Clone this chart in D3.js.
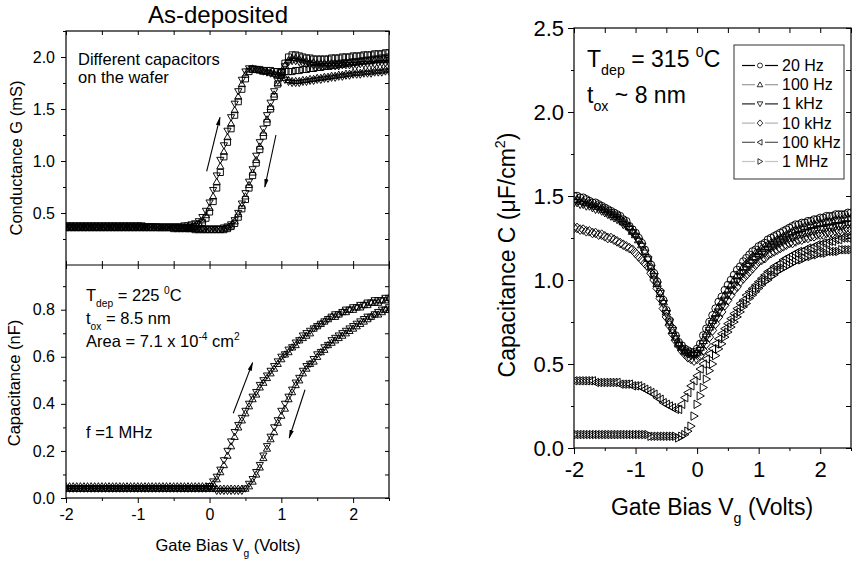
<!DOCTYPE html>
<html><head><meta charset="utf-8">
<script src="https://cdn.jsdelivr.net/npm/d3@7"></script>
<style>body{margin:0;background:#fff}svg{display:block}text{white-space:pre}</style>
</head><body>
<svg id="c" width="853" height="563"></svg>
<script>
// ---------- DATA ----------
const volts = [-2,-1.95,-1.9,-1.85,-1.8,-1.75,-1.7,-1.65,-1.6,-1.55,
-1.5,-1.45,-1.4,-1.35,-1.3,-1.25,-1.2,-1.15,-1.1,-1.05,
-1,-0.95,-0.9,-0.85,-0.8,-0.75,-0.7,-0.65,-0.6,-0.55,
-0.5,-0.45,-0.4,-0.35,-0.3,-0.25,-0.2,-0.15,-0.1,-0.05,
0,0.05,0.1,0.15,0.2,0.25,0.3,0.35,0.4,0.45,
0.5,0.55,0.6,0.65,0.7,0.75,0.8,0.85,0.9,0.95,
1,1.05,1.1,1.15,1.2,1.25,1.3,1.35,1.4,1.45,
1.5,1.55,1.6,1.65,1.7,1.75,1.8,1.85,1.9,1.95,
2,2.05,2.1,2.15,2.2,2.25,2.3,2.35,2.4,2.45,
2.5];

// Conductance G (mS), left-top panel: three capacitors, forward (Up) and reverse (Dn) sweeps
const gUpTriUp = [0.37,0.37,0.37,0.37,0.37,0.37,0.37,0.37,0.37,0.37,
0.37,0.37,0.37,0.37,0.37,0.37,0.37,0.37,0.37,0.37,
0.37,0.37,0.37,0.36,0.36,0.36,0.36,0.36,0.36,0.36,
0.36,0.36,0.36,0.36,0.37,0.37,0.38,0.40,0.43,0.48,
0.55,0.66,0.80,0.95,1.09,1.23,1.36,1.49,1.62,1.74,
1.83,1.88,1.89,1.88,1.87,1.86,1.86,1.85,1.84,1.83,
1.82,1.80,1.78,1.77,1.77,1.77,1.78,1.78,1.79,1.79,
1.80,1.80,1.81,1.81,1.82,1.82,1.83,1.83,1.84,1.84,
1.85,1.85,1.85,1.86,1.86,1.86,1.87,1.87,1.87,1.88,
1.88];
const gDnTriUp = [0.36,0.36,0.36,0.36,0.36,0.36,0.36,0.36,0.36,0.36,
0.36,0.36,0.36,0.36,0.36,0.36,0.36,0.36,0.36,0.36,
0.36,0.36,0.36,0.36,0.36,0.36,0.36,0.36,0.36,0.36,
0.36,0.36,0.36,0.35,0.35,0.35,0.35,0.35,0.35,0.34,
0.34,0.34,0.34,0.34,0.35,0.36,0.38,0.42,0.49,0.57,
0.66,0.77,0.89,1.01,1.14,1.27,1.40,1.52,1.64,1.75,
1.84,1.92,1.97,1.99,1.99,1.98,1.97,1.96,1.95,1.95,
1.94,1.94,1.94,1.94,1.94,1.94,1.94,1.94,1.95,1.95,
1.95,1.95,1.96,1.96,1.96,1.96,1.97,1.97,1.97,1.97,
1.98];
const gUpTriDn = [0.38,0.38,0.38,0.38,0.38,0.38,0.38,0.38,0.38,0.38,
0.38,0.38,0.38,0.38,0.38,0.38,0.38,0.38,0.38,0.38,
0.38,0.38,0.37,0.37,0.37,0.37,0.37,0.37,0.37,0.37,
0.37,0.37,0.37,0.38,0.38,0.39,0.40,0.42,0.46,0.52,
0.60,0.72,0.86,1.01,1.15,1.29,1.42,1.55,1.67,1.78,
1.86,1.89,1.89,1.88,1.87,1.86,1.85,1.84,1.83,1.82,
1.80,1.78,1.76,1.75,1.75,1.75,1.76,1.76,1.77,1.77,
1.78,1.78,1.79,1.79,1.80,1.80,1.81,1.81,1.82,1.82,
1.83,1.83,1.83,1.84,1.84,1.84,1.85,1.85,1.85,1.86,
1.86];
const gDnTriDn = [0.37,0.37,0.37,0.37,0.37,0.37,0.37,0.37,0.37,0.37,
0.37,0.37,0.37,0.37,0.37,0.37,0.37,0.37,0.37,0.37,
0.37,0.37,0.37,0.37,0.37,0.37,0.36,0.36,0.36,0.36,
0.36,0.36,0.36,0.36,0.35,0.35,0.35,0.35,0.35,0.35,
0.35,0.35,0.35,0.35,0.36,0.37,0.39,0.43,0.50,0.59,
0.69,0.80,0.92,1.05,1.18,1.31,1.44,1.56,1.67,1.77,
1.85,1.91,1.95,1.96,1.96,1.95,1.94,1.93,1.92,1.92,
1.91,1.91,1.91,1.91,1.91,1.91,1.91,1.92,1.92,1.92,
1.92,1.92,1.93,1.93,1.93,1.93,1.93,1.94,1.94,1.94,
1.94];
const gUpSq = [0.36,0.36,0.36,0.36,0.36,0.36,0.36,0.36,0.36,0.36,
0.36,0.36,0.36,0.36,0.36,0.36,0.36,0.36,0.36,0.36,
0.36,0.36,0.36,0.36,0.36,0.36,0.36,0.36,0.36,0.36,
0.36,0.36,0.36,0.36,0.36,0.36,0.37,0.39,0.41,0.45,
0.51,0.61,0.74,0.89,1.04,1.18,1.31,1.44,1.57,1.69,
1.79,1.86,1.88,1.88,1.88,1.87,1.87,1.87,1.86,1.86,
1.86,1.86,1.86,1.86,1.87,1.87,1.88,1.88,1.89,1.89,
1.90,1.90,1.91,1.91,1.92,1.92,1.93,1.93,1.94,1.94,
1.95,1.95,1.96,1.96,1.97,1.97,1.98,1.98,1.99,1.99,
2.00];
const gDnSq = [0.36,0.36,0.36,0.36,0.36,0.36,0.36,0.36,0.36,0.36,
0.36,0.36,0.36,0.36,0.36,0.36,0.36,0.36,0.36,0.36,
0.36,0.36,0.36,0.36,0.36,0.36,0.36,0.36,0.36,0.36,
0.35,0.35,0.35,0.35,0.35,0.35,0.34,0.34,0.34,0.34,
0.34,0.34,0.34,0.34,0.34,0.35,0.37,0.40,0.46,0.54,
0.63,0.74,0.86,0.98,1.11,1.24,1.37,1.50,1.62,1.74,
1.85,1.94,2.00,2.02,2.02,2.01,2.00,1.99,1.99,1.98,
1.98,1.98,1.98,1.98,1.99,1.99,1.99,2.00,2.00,2.00,
2.01,2.01,2.01,2.02,2.02,2.02,2.03,2.03,2.03,2.04,
2.04];

// Capacitance (nF), left-bottom panel, f = 1 MHz
const cUpTriUp = [0.05,0.05,0.05,0.05,0.05,0.05,0.05,0.05,0.05,0.05,
0.05,0.05,0.05,0.05,0.05,0.05,0.05,0.05,0.05,0.05,
0.05,0.05,0.05,0.05,0.05,0.05,0.05,0.05,0.05,0.05,
0.05,0.05,0.05,0.05,0.05,0.05,0.05,0.05,0.05,0.05,
0.05,0.06,0.08,0.11,0.14,0.18,0.22,0.26,0.30,0.33,
0.36,0.39,0.42,0.44,0.47,0.49,0.51,0.53,0.55,0.57,
0.59,0.61,0.62,0.64,0.65,0.67,0.68,0.69,0.70,0.72,
0.73,0.74,0.75,0.76,0.77,0.77,0.78,0.79,0.79,0.80,
0.80,0.81,0.81,0.82,0.82,0.83,0.83,0.83,0.84,0.84,
0.85];
const cDnTriUp = [0.04,0.04,0.04,0.04,0.04,0.04,0.04,0.04,0.04,0.04,
0.04,0.04,0.04,0.04,0.04,0.04,0.04,0.04,0.04,0.04,
0.04,0.04,0.04,0.04,0.04,0.04,0.04,0.04,0.04,0.04,
0.04,0.04,0.04,0.04,0.04,0.04,0.04,0.04,0.04,0.04,
0.04,0.04,0.04,0.04,0.04,0.04,0.04,0.04,0.04,0.04,
0.04,0.05,0.07,0.10,0.13,0.17,0.21,0.25,0.28,0.32,
0.35,0.38,0.42,0.45,0.48,0.50,0.53,0.55,0.57,0.58,
0.60,0.62,0.63,0.65,0.66,0.67,0.68,0.69,0.70,0.71,
0.72,0.73,0.74,0.75,0.76,0.77,0.78,0.78,0.79,0.80,
0.80];
const cUpTriDn = [0.04,0.04,0.04,0.04,0.04,0.04,0.04,0.04,0.04,0.04,
0.04,0.04,0.04,0.04,0.04,0.04,0.04,0.04,0.04,0.04,
0.04,0.04,0.04,0.04,0.04,0.04,0.04,0.04,0.04,0.04,
0.04,0.04,0.04,0.04,0.04,0.04,0.04,0.04,0.04,0.04,
0.05,0.07,0.09,0.12,0.16,0.20,0.24,0.28,0.31,0.34,
0.37,0.40,0.43,0.45,0.48,0.50,0.52,0.54,0.56,0.58,
0.60,0.61,0.63,0.64,0.66,0.67,0.69,0.70,0.71,0.72,
0.73,0.74,0.75,0.76,0.77,0.78,0.78,0.79,0.80,0.80,
0.81,0.81,0.82,0.82,0.83,0.83,0.84,0.84,0.84,0.85,
0.85];
const cDnTriDn = [0.04,0.04,0.04,0.04,0.04,0.04,0.04,0.04,0.04,0.04,
0.04,0.04,0.04,0.04,0.04,0.04,0.04,0.04,0.04,0.04,
0.04,0.04,0.04,0.04,0.04,0.04,0.04,0.04,0.04,0.04,
0.04,0.04,0.04,0.04,0.04,0.04,0.04,0.04,0.04,0.04,
0.04,0.04,0.03,0.03,0.03,0.03,0.03,0.03,0.03,0.03,
0.04,0.06,0.08,0.11,0.14,0.18,0.22,0.26,0.30,0.33,
0.37,0.40,0.43,0.46,0.49,0.51,0.54,0.56,0.57,0.59,
0.61,0.62,0.64,0.65,0.67,0.68,0.69,0.70,0.71,0.72,
0.73,0.74,0.75,0.76,0.77,0.77,0.78,0.79,0.80,0.80,
0.81];

// Capacitance C (uF/cm^2), right panel, six frequencies
const freqLabels = ["20 Hz","100 Hz","1 kHz","10 kHz","100 kHz","1 MHz"];
const c20Hz = [1.50,1.50,1.49,1.49,1.48,1.47,1.46,1.46,1.45,1.44,
1.43,1.42,1.41,1.40,1.39,1.38,1.36,1.35,1.32,1.30,
1.28,1.25,1.22,1.18,1.13,1.09,1.04,0.99,0.93,0.88,
0.82,0.76,0.71,0.67,0.63,0.61,0.59,0.58,0.57,0.57,
0.59,0.62,0.67,0.71,0.75,0.79,0.83,0.87,0.90,0.94,
0.97,1.00,1.03,1.06,1.08,1.11,1.13,1.15,1.17,1.18,
1.20,1.21,1.22,1.24,1.25,1.26,1.27,1.28,1.29,1.30,
1.31,1.32,1.33,1.33,1.34,1.34,1.35,1.35,1.36,1.36,
1.37,1.37,1.38,1.38,1.38,1.39,1.39,1.39,1.39,1.40,
1.40];
const c100Hz = [1.48,1.48,1.47,1.47,1.46,1.46,1.45,1.44,1.44,1.43,
1.42,1.41,1.40,1.39,1.38,1.37,1.35,1.34,1.32,1.29,
1.27,1.24,1.21,1.17,1.13,1.08,1.03,0.98,0.92,0.87,
0.81,0.75,0.70,0.66,0.62,0.60,0.58,0.57,0.56,0.56,
0.57,0.60,0.64,0.68,0.72,0.76,0.80,0.84,0.87,0.91,
0.94,0.97,1.00,1.03,1.05,1.08,1.10,1.12,1.14,1.16,
1.17,1.19,1.20,1.21,1.22,1.23,1.24,1.25,1.26,1.27,
1.28,1.29,1.30,1.30,1.31,1.32,1.32,1.33,1.33,1.34,
1.34,1.34,1.35,1.35,1.35,1.36,1.36,1.36,1.37,1.37,
1.37];
const c1kHz = [1.46,1.46,1.45,1.45,1.44,1.44,1.43,1.42,1.42,1.41,
1.40,1.39,1.38,1.37,1.36,1.35,1.33,1.32,1.30,1.28,
1.26,1.23,1.20,1.16,1.12,1.07,1.02,0.97,0.92,0.86,
0.80,0.75,0.70,0.65,0.61,0.59,0.57,0.56,0.55,0.55,
0.56,0.58,0.62,0.66,0.70,0.74,0.77,0.81,0.84,0.88,
0.91,0.94,0.97,0.99,1.02,1.04,1.06,1.08,1.10,1.12,
1.14,1.15,1.16,1.18,1.19,1.20,1.21,1.22,1.23,1.24,
1.25,1.25,1.26,1.27,1.27,1.28,1.28,1.29,1.29,1.30,
1.30,1.30,1.31,1.31,1.31,1.32,1.32,1.32,1.33,1.33,
1.33];
const c10kHz = [1.31,1.31,1.30,1.30,1.29,1.29,1.28,1.28,1.27,1.27,
1.26,1.25,1.25,1.24,1.23,1.22,1.21,1.20,1.19,1.18,
1.16,1.14,1.12,1.10,1.08,1.04,1.00,0.95,0.89,0.83,
0.78,0.73,0.68,0.64,0.61,0.58,0.56,0.54,0.53,0.52,
0.53,0.55,0.58,0.62,0.66,0.70,0.74,0.78,0.81,0.85,
0.88,0.91,0.94,0.96,0.99,1.01,1.03,1.05,1.07,1.09,
1.11,1.12,1.13,1.15,1.16,1.17,1.18,1.19,1.20,1.21,
1.22,1.22,1.23,1.24,1.24,1.25,1.25,1.26,1.26,1.27,
1.27,1.27,1.28,1.28,1.28,1.29,1.29,1.29,1.30,1.30,
1.30];
const c100kHz = [0.40,0.40,0.40,0.40,0.40,0.40,0.40,0.39,0.39,0.39,
0.39,0.39,0.39,0.39,0.39,0.38,0.38,0.38,0.38,0.37,
0.37,0.37,0.36,0.35,0.34,0.33,0.32,0.30,0.29,0.27,
0.26,0.25,0.24,0.23,0.23,0.26,0.30,0.33,0.37,0.40,
0.43,0.47,0.50,0.53,0.56,0.59,0.62,0.65,0.68,0.71,
0.74,0.77,0.80,0.83,0.86,0.88,0.91,0.93,0.95,0.97,
0.99,1.01,1.03,1.05,1.06,1.08,1.09,1.10,1.12,1.13,
1.14,1.15,1.16,1.17,1.17,1.18,1.19,1.19,1.20,1.21,
1.21,1.22,1.22,1.23,1.23,1.24,1.24,1.25,1.25,1.25,
1.26];
const c1MHz = [0.08,0.08,0.08,0.08,0.08,0.08,0.08,0.08,0.08,0.08,
0.08,0.08,0.08,0.08,0.08,0.08,0.08,0.08,0.08,0.08,
0.08,0.08,0.08,0.08,0.08,0.07,0.07,0.07,0.07,0.07,
0.07,0.07,0.07,0.07,0.06,0.07,0.08,0.10,0.13,0.19,
0.26,0.31,0.36,0.41,0.46,0.50,0.55,0.59,0.62,0.66,
0.69,0.72,0.75,0.78,0.81,0.84,0.86,0.89,0.91,0.93,
0.95,0.97,0.99,1.00,1.02,1.03,1.05,1.06,1.07,1.08,
1.09,1.10,1.11,1.12,1.12,1.13,1.14,1.14,1.15,1.15,
1.16,1.16,1.16,1.17,1.17,1.17,1.17,1.18,1.18,1.18,
1.18];

// Tick values
const vMajor = [-2,-1,0,1,2];
const vMinor = [-1.5,-0.5,0.5,1.5,2.5];
const gMajor = [0.5,1.0,1.5,2.0];
const gMinor = [0.25,0.75,1.25,1.75,2.25];
const cMajor = [0,0.2,0.4,0.6,0.8];
const cMinor = [0.1,0.3,0.5,0.7,0.9];
const rMajor = [0,0.5,1.0,1.5,2.0,2.5];
const rMinor = [0.25,0.75,1.25,1.75,2.25];

// ---------- DRAWING ----------
const FONT = '"Liberation Sans", Arial, Helvetica, sans-serif';
const svg = d3.select("#c");
svg.append("rect").attr("width",853).attr("height",563).attr("fill","#fff");

function mk(type, r) {
  const h = 0.73 * r;
  switch (type) {
    case "up": return `M0,${-r}L${r},${h}L${-r},${h}Z`;
    case "down": return `M0,${r}L${r},${-h}L${-r},${-h}Z`;
    case "left": return `M${-r},0L${h},${-r}L${h},${r}Z`;
    case "right": return `M${r},0L${-h},${-r}L${-h},${r}Z`;
    case "square": { const s = 0.85 * r; return `M${-s},${-s}H${s}V${s}H${-s}Z`; }
    case "diamond": return `M0,${-1.15*r}L${r},0L0,${1.15*r}L${-r},0Z`;
    default: { const c = 0.9 * r; return `M${c},0A${c},${c} 0 1,1 ${-c},0A${c},${c} 0 1,1 ${c},0Z`; }
  }
}

function series(g, vals, x, y, type, r) {
  g.append("g").selectAll("path").data(d3.zip(volts, vals)).join("path")
    .attr("transform", d => `translate(${x(d[0])},${y(d[1])})`)
    .attr("d", mk(type, r)).attr("fill", "none").attr("stroke", "#000").attr("stroke-width", 0.95);
}

function ax(g, axis, tx, ty, fs) {
  const a = g.append("g").attr("transform", `translate(${tx},${ty})`).call(axis);
  a.select(".domain").remove();
  a.selectAll("line").attr("stroke", "#000").attr("stroke-width", 1);
  a.selectAll("text").attr("font-family", FONT).attr("font-size", fs).attr("fill", "#000");
  return a;
}

function rich(g, x, y, parts, fs, anchor, transform) {
  const t = g.append("text").attr("x", x).attr("y", y).attr("font-family", FONT)
    .attr("font-size", fs).attr("text-anchor", anchor || "start").attr("fill", "#000");
  if (transform) t.attr("transform", transform);
  let cur = 0;
  parts.forEach(([s, k]) => {
    const off = k === "sub" ? 0.35 * fs : k === "sup" ? -0.42 * fs : 0;
    t.append("tspan").attr("dy", off - cur).attr("font-size", k === "n" ? fs : 0.62 * fs).text(s);
    cur = off;
  });
  return t;
}

const defs = svg.append("defs");
defs.append("marker").attr("id", "ah").attr("viewBox", "0 0 10 10").attr("refX", 9).attr("refY", 5)
  .attr("markerUnits", "userSpaceOnUse").attr("markerWidth", 9).attr("markerHeight", 9).attr("orient", "auto")
  .append("path").attr("d", "M0,2.6L10,5L0,7.4Z").attr("fill", "#000");

function clip(id, x0, y0, x1, y1) {
  defs.append("clipPath").attr("id", id).append("rect").attr("x", x0).attr("y", y0).attr("width", x1 - x0).attr("height", y1 - y0);
}

// ----- Left panels -----
const xL = d3.scaleLinear([-2, 2.5], [66, 389]);
const yG = d3.scaleLinear([0, 2.25], [265, 31]);
const yC = d3.scaleLinear([0, 0.99], [498, 265]);
const L = svg.append("g");
const fL = 16;

clip("clipG", 66, 31, 389, 265);
clip("clipC", 66, 265, 389, 498);

const pG = L.append("g").attr("clip-path", "url(#clipG)");
[[gUpTriUp, "up"], [gDnTriUp, "up"], [gUpTriDn, "down"], [gDnTriDn, "down"], [gUpSq, "square"], [gDnSq, "square"]]
  .forEach(([v, m]) => series(pG, v, xL, yG, m, 3.6));
const pC = L.append("g").attr("clip-path", "url(#clipC)");
[[cUpTriUp, "up"], [cDnTriUp, "up"], [cUpTriDn, "down"], [cDnTriDn, "down"]]
  .forEach(([v, m]) => series(pC, v, xL, yC, m, 3.6));

// axes top panel
ax(L, d3.axisLeft(yG).tickValues(gMajor).tickSize(5).tickPadding(6).tickSizeOuter(0).tickFormat(d3.format(".1f")), 66, 0, fL);
ax(L, d3.axisLeft(yG).tickValues(gMinor).tickSize(3).tickSizeOuter(0).tickFormat(""), 66, 0, fL);
ax(L, d3.axisLeft(yG).tickValues(gMajor.concat(gMinor)).tickSize(4).tickSizeOuter(0).tickFormat(""), 389, 0, fL);
ax(L, d3.axisBottom(xL).tickValues(vMajor.concat(vMinor)).tickSize(4).tickSizeOuter(0).tickFormat(""), 0, 31, fL);
ax(L, d3.axisTop(xL).tickValues(vMajor.concat(vMinor)).tickSize(4).tickSizeOuter(0).tickFormat(""), 0, 265, fL);
// axes bottom panel
ax(L, d3.axisLeft(yC).tickValues(cMajor).tickSize(5).tickPadding(6).tickSizeOuter(0).tickFormat(d3.format(".1f")), 66, 0, fL);
ax(L, d3.axisLeft(yC).tickValues(cMinor).tickSize(3).tickSizeOuter(0).tickFormat(""), 66, 0, fL);
ax(L, d3.axisLeft(yC).tickValues(cMajor.concat(cMinor)).tickSize(4).tickSizeOuter(0).tickFormat(""), 389, 0, fL);
ax(L, d3.axisBottom(xL).tickValues(vMajor.concat(vMinor)).tickSize(4).tickSizeOuter(0).tickFormat(""), 0, 265, fL);
ax(L, d3.axisBottom(xL).tickValues(vMajor).tickSize(5).tickPadding(6).tickSizeOuter(0).tickFormat(d => String(d)), 0, 498, fL);
ax(L, d3.axisBottom(xL).tickValues(vMinor).tickSize(3).tickSizeOuter(0).tickFormat(""), 0, 498, fL);

L.append("rect").attr("x", 66).attr("y", 31).attr("width", 323).attr("height", 467)
  .attr("fill", "none").attr("stroke", "#000").attr("stroke-width", 1.2);
L.append("line").attr("x1", 66).attr("x2", 389).attr("y1", 265).attr("y2", 265).attr("stroke", "#000").attr("stroke-width", 1.2);

// arrows (data units)
const arrowsG = [[-0.04, 0.90, 0.145, 1.42], [0.925, 1.25, 0.77, 0.75]];
const arrowsC = [[0.33, 0.36, 0.60, 0.575], [1.33, 0.46, 1.11, 0.255]];
arrowsG.forEach(a => L.append("line").attr("x1", xL(a[0])).attr("y1", yG(a[1])).attr("x2", xL(a[2])).attr("y2", yG(a[3]))
  .attr("stroke", "#000").attr("stroke-width", 1.1).attr("marker-end", "url(#ah)"));
arrowsC.forEach(a => L.append("line").attr("x1", xL(a[0])).attr("y1", yC(a[1])).attr("x2", xL(a[2])).attr("y2", yC(a[3]))
  .attr("stroke", "#000").attr("stroke-width", 1.1).attr("marker-end", "url(#ah)"));

// texts left
rich(L, 218, 23, [["As-deposited", "n"]], 24, "middle");
rich(L, 0, 0, [["Conductance G (mS)", "n"]], 16.5, "middle", "translate(22,158) rotate(-90)");
rich(L, 0, 0, [["Capacitance (nF)", "n"]], 16.5, "middle", "translate(20,383) rotate(-90)");
rich(L, 228, 551, [["Gate Bias V", "n"], ["g", "sub"], [" (Volts)", "n"]], 16.5, "middle");
rich(L, 78, 65, [["Different capacitors", "n"]], 16.5);
rich(L, 78, 83, [["on the wafer", "n"]], 16.5);
rich(L, 86, 301, [["T", "n"], ["dep", "sub"], [" = 225 ", "n"], ["0", "sup"], ["C", "n"]], 16.5);
rich(L, 86, 324, [["t", "n"], ["ox", "sub"], [" = 8.5 nm", "n"]], 16.5);
rich(L, 86, 347, [["Area = 7.1 x 10", "n"], ["-4", "sup"], [" cm", "n"], ["2", "sup"]], 16.5);
rich(L, 86, 438, [["f =1 MHz", "n"]], 16.5);

// ----- Right panel -----
const xR = d3.scaleLinear([-2, 2.5], [574, 851]);
const yR = d3.scaleLinear([0, 2.5], [448, 28]);
const R = svg.append("g");
const fR = 22;
clip("clipR", 574, 28, 851, 448);
const pR = R.append("g").attr("clip-path", "url(#clipR)");
const rightSeries = [[c1MHz, "right"], [c100kHz, "left"], [c10kHz, "diamond"], [c1kHz, "down"], [c100Hz, "up"], [c20Hz, "circle"]];
rightSeries.forEach(([v, m]) => series(pR, v, xR, yR, m, 4.2));

ax(R, d3.axisLeft(yR).tickValues(rMajor).tickSize(6).tickPadding(4).tickSizeOuter(0).tickFormat(d3.format(".1f")), 574, 0, fR);
ax(R, d3.axisLeft(yR).tickValues(rMinor).tickSize(3).tickSizeOuter(0).tickFormat(""), 574, 0, fR);
ax(R, d3.axisLeft(yR).tickValues(rMajor.concat(rMinor)).tickSize(5).tickSizeOuter(0).tickFormat(""), 851, 0, fR);
ax(R, d3.axisBottom(xR).tickValues(vMajor.concat(vMinor)).tickSize(5).tickSizeOuter(0).tickFormat(""), 0, 28, fR);
ax(R, d3.axisBottom(xR).tickValues(vMajor).tickSize(6).tickPadding(7).tickSizeOuter(0).tickFormat(d => String(d)), 0, 448, fR);
ax(R, d3.axisBottom(xR).tickValues(vMinor).tickSize(3).tickSizeOuter(0).tickFormat(""), 0, 448, fR);
R.append("rect").attr("x", 574).attr("y", 28).attr("width", 277).attr("height", 420)
  .attr("fill", "none").attr("stroke", "#000").attr("stroke-width", 1.2);

rich(R, 0, 0, [["Capacitance C (μF/cm", "n"], ["2", "sup"], [")", "n"]], 23, "middle", "translate(515,255) rotate(-90)");
rich(R, 712, 515, [["Gate Bias V", "n"], ["g", "sub"], [" (Volts)", "n"]], 23, "middle");
rich(R, 587, 67, [["T", "n"], ["dep", "sub"], [" = 315 ", "n"], ["0", "sup"], ["C", "n"]], 23);
rich(R, 587, 103, [["t", "n"], ["ox", "sub"], [" ~ 8 nm", "n"]], 23);

// legend
const legendMarkers = ["circle", "up", "down", "diamond", "left", "right"];
const legendLineColors = ["#000", "#9a9a9a", "#222", "#b0b0b0", "#555", "#c4c4c4"];
const lg = R.append("g");
lg.append("rect").attr("x", 734).attr("y", 45).attr("width", 110).attr("height", 134)
  .attr("fill", "#fff").attr("stroke", "#333").attr("stroke-width", 1);
freqLabels.forEach((lab, i) => {
  const yb = 71 + 19.2 * i, yl = yb - 5.5;
  lg.append("line").attr("x1", 742).attr("x2", 755).attr("y1", yl).attr("y2", yl).attr("stroke", legendLineColors[i]).attr("stroke-width", 1.2);
  lg.append("line").attr("x1", 765).attr("x2", 778).attr("y1", yl).attr("y2", yl).attr("stroke", legendLineColors[i]).attr("stroke-width", 1.2);
  lg.append("path").attr("transform", `translate(760,${yl})`).attr("d", mk(legendMarkers[i], 2.8))
    .attr("fill", "none").attr("stroke", "#000").attr("stroke-width", 0.8);
  rich(lg, 782, yb, [[lab, "n"]], 16);
});
</script>
</body></html>
